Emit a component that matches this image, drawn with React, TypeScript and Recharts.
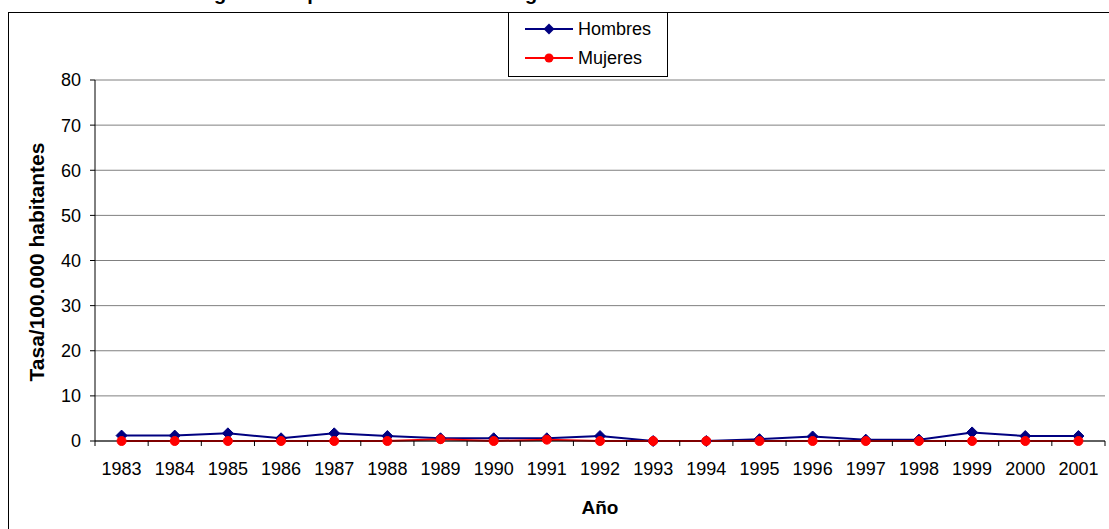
import React from "react";
import { LineChart, Line, XAxis, YAxis, CartesianGrid } from "recharts";

// data
const years = [
  "1983", "1984", "1985", "1986", "1987", "1988", "1989", "1990", "1991", "1992",
  "1993", "1994", "1995", "1996", "1997", "1998", "1999", "2000", "2001",
];
const hombres = [1.2, 1.2, 1.7, 0.6, 1.7, 1.1, 0.6, 0.6, 0.6, 1.1, 0, 0, 0.4, 1.0, 0.3, 0.3, 1.9, 1.1, 1.1];
const mujeres = [0, 0, 0, 0, 0, 0, 0.4, 0, 0.3, 0, 0, 0, 0, 0, 0, 0, 0, 0, 0];
const yTicks = [0, 10, 20, 30, 40, 50, 60, 70, 80];
const seriesNames = ["Hombres", "Mujeres"];
const seriesColors = ["#000080", "#FF0000"];

const chartTitle = "Mortalidad según sexo por otros tumores malignos del hueso";
const xTitle = "Año";
const yTitle = "Tasa/100.000 habitantes";

const W = 1109;
const H = 529;
const PLOT_L = 95;
const PLOT_R = 1105;
const PLOT_T = 80;
const PLOT_B = 441;
const BAND = (PLOT_R - PLOT_L) / years.length;
const FONT = '"Liberation Sans", Arial, sans-serif';

const data = years.map((year, i) => ({ year, hombres: hombres[i], mujeres: mujeres[i] }));

function YearTick(props: any) {
  const { x, payload, index } = props;
  const last = index === years.length - 1;
  return (
    <g>
      <line x1={x - BAND / 2} x2={x - BAND / 2} y1={PLOT_B} y2={PLOT_B + 5} stroke="#000" />
      {last && <line x1={x + BAND / 2} x2={x + BAND / 2} y1={PLOT_B} y2={PLOT_B + 5} stroke="#000" />}
      <text x={x} y={PLOT_B + 21} dy="0.71em" textAnchor="middle" fontSize={18} fill="#000" fontFamily={FONT}>
        {payload.value}
      </text>
    </g>
  );
}

function Diamond(props: any) {
  const { cx, cy, index } = props;
  const s = 5.5;
  return (
    <path
      key={"h" + index}
      d={`M${cx},${cy - s}L${cx + s},${cy}L${cx},${cy + s}L${cx - s},${cy}Z`}
      fill="#000080"
      stroke="#000080"
    />
  );
}

function LegendIcon({ i }: { i: number }) {
  const c = seriesColors[i];
  return (
    <svg width={48} height={12} style={{ display: "block" }}>
      <line x1={0} x2={48} y1={6} y2={6} stroke={c} strokeWidth={2} />
      {i === 0 ? (
        <path d="M24,0.5L29.5,6L24,11.5L18.5,6Z" fill={c} />
      ) : (
        <circle cx={24} cy={6} r={4.5} fill={c} />
      )}
    </svg>
  );
}

export default function App() {
  return (
    <div
      style={{
        position: "absolute",
        left: 0,
        top: 0,
        width: W,
        height: H,
        overflow: "hidden",
        background: "#fff",
        fontFamily: FONT,
      }}
    >
      {/* outer frame */}
      <div
        style={{
          position: "absolute",
          left: 8,
          top: 12,
          width: W,
          height: H,
          borderLeft: "1px solid #000",
          borderTop: "1px solid #000",
        }}
      />
      {/* title, cut off at the top as in the reference */}
      <div
        style={{
          position: "absolute",
          left: 85,
          top: -17,
          fontSize: 20,
          lineHeight: "20px",
          fontWeight: "bold",
          whiteSpace: "nowrap",
        }}
      >
        {chartTitle}
      </div>

      <div style={{ position: "absolute", left: 0, top: 0 }}>
        <LineChart
          width={W}
          height={H}
          data={data}
          margin={{ top: PLOT_T, right: W - PLOT_R, bottom: 0, left: 35 }}
        >
          <CartesianGrid vertical={false} stroke="#808080" />
          <XAxis
            dataKey="year"
            interval={0}
            height={H - PLOT_B}
            padding={{ left: BAND / 2, right: BAND / 2 }}
            axisLine={{ stroke: "#000" }}
            tickLine={false}
            tick={<YearTick />}
          />
          <YAxis
            width={PLOT_L - 35}
            domain={[0, 80]}
            ticks={yTicks}
            interval={0}
            axisLine={{ stroke: "#000" }}
            tickLine={{ stroke: "#000" }}
            tickSize={5}
            tickMargin={9}
            tick={{ fill: "#000", fontSize: 18, fontFamily: FONT }}
          />
          <YAxis
            yAxisId="r"
            orientation="right"
            width={0}
            domain={[0, 80]}
            tick={false}
            tickLine={false}
            axisLine={{ stroke: "#808080" }}
          />
          <Line
            dataKey="hombres"
            name={seriesNames[0]}
            stroke={seriesColors[0]}
            strokeWidth={2}
            dot={Diamond}
            isAnimationActive={false}
          />
          <Line
            dataKey="mujeres"
            name={seriesNames[1]}
            stroke={seriesColors[1]}
            strokeWidth={2}
            dot={{ r: 4.5, fill: seriesColors[1], stroke: seriesColors[1], strokeWidth: 1 }}
            isAnimationActive={false}
          />
        </LineChart>
      </div>

      {/* legend box */}
      <div
        style={{
          position: "absolute",
          left: 508,
          top: 12,
          width: 158,
          height: 63,
          border: "1px solid #000",
          background: "#fff",
        }}
      >
        {seriesNames.map((n, i) => (
          <div
            key={n}
            style={{
              position: "absolute",
              left: 16,
              top: i === 0 ? 5 : 34,
              height: 22,
              display: "flex",
              alignItems: "center",
              fontSize: 18,
              whiteSpace: "nowrap",
            }}
          >
            <LegendIcon i={i} />
            <span style={{ marginLeft: 5 }}>{n}</span>
          </div>
        ))}
      </div>

      {/* axis titles */}
      <div
        style={{
          position: "absolute",
          left: (PLOT_L + PLOT_R) / 2,
          top: 497,
          transform: "translateX(-50%)",
          fontSize: 19,
          fontWeight: "bold",
          whiteSpace: "nowrap",
        }}
      >
        {xTitle}
      </div>
      <div
        style={{
          position: "absolute",
          left: 37,
          top: (PLOT_T + PLOT_B) / 2 + 1,
          transform: "translate(-50%, -50%) rotate(-90deg)",
          fontSize: 21,
          fontWeight: "bold",
          whiteSpace: "nowrap",
        }}
      >
        {yTitle}
      </div>
    </div>
  );
}
